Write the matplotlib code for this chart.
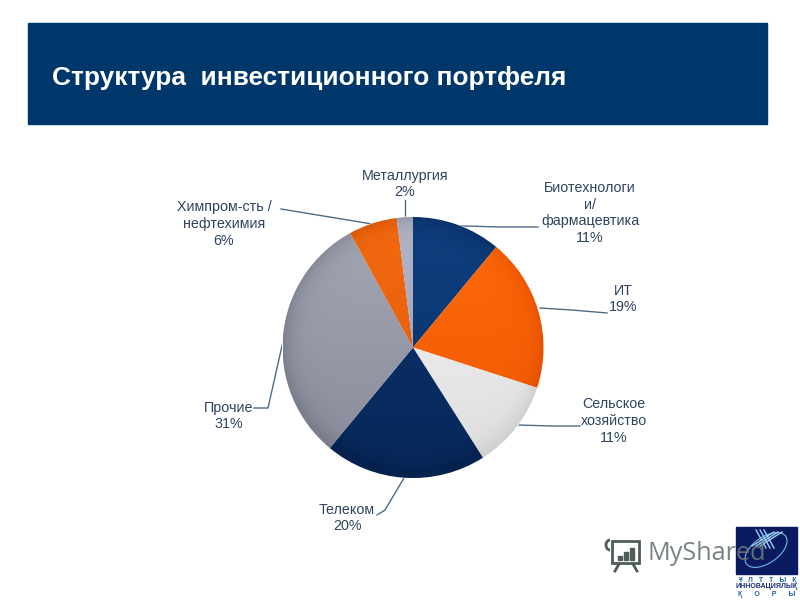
import numpy as np
import matplotlib
matplotlib.use('Agg')
import matplotlib.pyplot as plt
from matplotlib.patches import Rectangle, Ellipse, Arc

plt.rcParams['font.family'] = ['Liberation Sans', 'DejaVu Sans']

# Data
categories = ['Биотехнологи\nи/\nфармацевтика', 'ИТ', 'Сельское\nхозяйство', 'Телеком',
              'Прочие', 'Химпром-сть /\nнефтехимия', 'Металлургия']
values = [11, 19, 11, 20, 31, 6, 2]
colors_top = ['#0e3f80', '#ff6a0a', '#f6f6f6', '#0c3370', '#a4a7b6', '#f56a10', '#b4b7c8']
colors_bottom = ['#062a5c', '#e65000', '#d2d2d2', '#05224f', '#7b7e8d', '#cf5005', '#84879a']

# label anchor and leader line, in pixels of the 800x600 picture
label_pos = [(590, 213), (623, 299), (614, 421), (347, 518), (229, 416), (224, 224), (405, 184)]
leader_x = [[430, 500, 538], [540, 572, 607], [518, 552, 580], [404, 385, 377], [284, 268, 254],
            [372, 281], [405, 405]]
leader_y = [[225, 227, 227], [308, 310, 313], [425, 426, 426], [478, 510, 515], [337, 408, 408],
            [224, 209], [218, 200]]

text_color = '#2f435e'
line_color = '#4f6b85'

fig = plt.figure(figsize=(8, 6), dpi=100)

# overlay axes in picture pixels
bg = fig.add_axes([0, 0, 1, 1])
bg.set_xlim(0, 800)
bg.set_ylim(600, 0)
bg.axis('off')

# Header band
bg.add_patch(Rectangle((28, 23), 739, 101, color='#00376b'))
bg.text(52, 78, 'Структура  инвестиционного портфеля', color='white', fontsize=18.9,
        fontweight='bold', va='center', ha='left')

# Leader lines and labels
for xs, ys in zip(leader_x, leader_y):
    bg.plot(xs, ys, color=line_color, lw=1)
for cat, val, pos in zip(categories, values, label_pos):
    bg.text(pos[0], pos[1], f'{cat}\n{val}%', color=text_color, fontsize=10.3, ha='center',
            va='center', linespacing=1.27)

# Pie, centre (413, 347.5), radius 130.5 px, axes slightly larger than the pie
pie_ax = fig.add_axes([278 / 800, 1 - 482.5 / 600, 270 / 800, 270 / 600])
wedges, _ = pie_ax.pie(values, startangle=90, counterclock=False, radius=1,
                       colors=colors_top,
                       wedgeprops={'edgecolor': 'white', 'linewidth': 0.8})
lim = 135 / 130.5

# Gradient fill, darker towards the bottom and the rim
grid = np.linspace(-1, 1, 300)
gx, gy = np.meshgrid(grid, grid)
rim = np.clip(np.hypot(gx, gy), 0, 1) ** 12
shade = np.clip(0.35 * (1 - gy) + 0.6 * rim, 0, 1)
for wedge, top, bottom in zip(wedges, colors_top, colors_bottom):
    c0 = np.array(matplotlib.colors.to_rgb(top))
    c1 = np.array(matplotlib.colors.to_rgb(bottom))
    img = c0 + (c1 - c0) * shade[..., None]
    im = pie_ax.imshow(img, extent=(-1, 1, -1, 1), origin='lower', zorder=wedge.get_zorder() + 0.1)
    im.set_clip_path(wedge)
pie_ax.set_xlim(-lim, lim)
pie_ax.set_ylim(-lim, lim)
pie_ax.set_aspect('equal')

# Logo block
bg.add_patch(Rectangle((736, 527), 61, 47, color='#0a1a60', zorder=4))
bg.add_patch(Ellipse((766, 550), 48, 26, angle=-35, fill=False, ec='#6fb7e6', lw=0.8, zorder=5))
for off in (-4, 0, 4):
    bg.plot([756 + off, 778 + off], [546, 532], color='#9ad0ee', lw=1, zorder=5)
    bg.plot([760 + off, 770 + off], [530, 548], color='#9ad0ee', lw=1, zorder=5)
bg.text(767, 580, 'Ұ   Л   Т   Т   Ы   Қ', color='#1f5fae', fontsize=5, fontweight='bold',
        ha='center', va='center')
bg.text(767, 587, 'ИННОВАЦИЯЛЫҚ', color='#1b2f7a', fontsize=5, fontweight='bold', ha='center', va='center')
bg.text(767, 594, 'Қ      О      Р      Ы', color='#1f5fae', fontsize=5, fontweight='bold',
        ha='center', va='center')

# MyShared watermark
bg.text(647, 554, 'MyShared', color='#6b7773', fontsize=18.2, ha='left', va='center',
        family=['Open Sans', 'DejaVu Sans'], alpha=0.9, zorder=6)
bg.add_patch(Rectangle((612, 541), 27, 22, fill=False, ec='#4f5d58', lw=2, zorder=6))
bg.add_patch(Arc((610, 545), 8, 10, theta1=90, theta2=270, ec='#4f5d58', lw=2, zorder=6))
for bx, bh in zip([618, 624, 630], [4, 8, 12]):
    bg.add_patch(Rectangle((bx, 560 - bh), 3.5, bh, color='#4f5d58', zorder=6))
bg.plot([619, 615], [564, 571], color='#4f5d58', lw=2, zorder=6)
bg.plot([633, 637], [564, 571], color='#4f5d58', lw=2, zorder=6)

fig.savefig('out.png', dpi=100)
